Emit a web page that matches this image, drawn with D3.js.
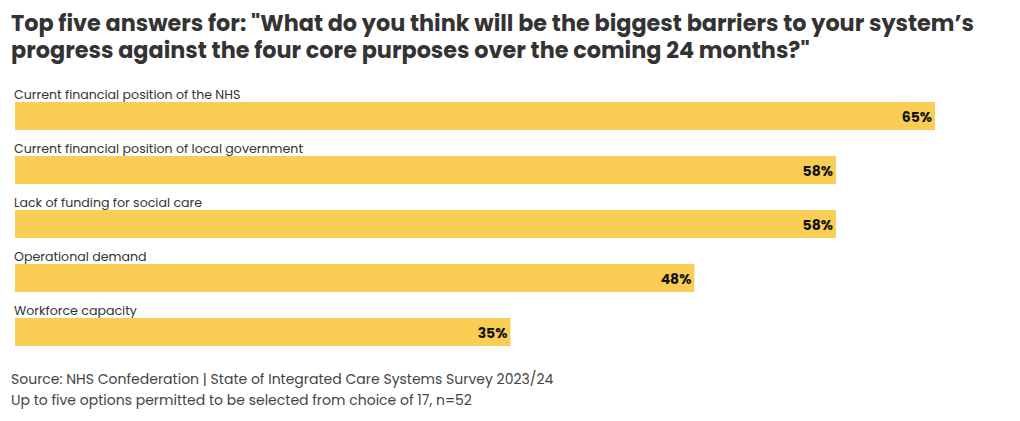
<!DOCTYPE html>
<html><head><meta charset="utf-8">
<script src="https://cdn.jsdelivr.net/npm/d3@7"></script>
<style>body{margin:0;background:#fff;} svg{display:block;}</style>
</head><body>
<script>
const categories = ["Current financial position of the NHS","Current financial position of local government","Lack of funding for social care","Operational demand","Workforce capacity"];
const values = [65, 58, 58, 48, 35];
const titleLines = ["Top five answers for: \"What do you think will be the biggest barriers to your system’s","progress against the four core purposes over the coming 24 months?\""];
const footerLines = ["Source: NHS Confederation | State of Integrated Care Systems Survey 2023/24","Up to five options permitted to be selected from choice of 17, n=52"];

const W = 1020, H = 421;
const font = "Poppins, 'Open Sans', Lato, sans-serif";
const svg = d3.select("body").append("svg").attr("width", W).attr("height", H);

const title = svg.append("text")
  .attr("font-family", font).attr("font-weight", 700).attr("font-size", 22.35)
  .attr("fill", "#333");
title.selectAll("tspan").data(titleLines).join("tspan")
  .attr("x", 11).attr("y", (d,i)=>30.5 + i*27).text(d=>d);

const x = d3.scaleLinear().domain([0, 65]).range([15, 935]);
const y = d3.scaleBand().domain(categories).range([84, 354]).paddingInner(0).paddingOuter(0);

const g = svg.append("g");
const rows = g.selectAll("g.row").data(categories).join("g");
rows.append("rect")
  .attr("x", x(0)).attr("y", d=>y(d)+18)
  .attr("width", (d,i)=>x(values[i]) - x(0)).attr("height", 28)
  .attr("fill", "#FACD55");
rows.append("text")
  .attr("x", 14).attr("y", d=>y(d)+14.5)
  .attr("font-family", font).attr("font-size", 12.6).attr("fill", "#333").text(d=>d);
rows.append("text")
  .attr("x", (d,i)=>x(values[i]) - 3).attr("y", d=>y(d)+37.5)
  .attr("text-anchor", "end")
  .attr("font-family", font).attr("font-weight", 700).attr("font-size", 14).attr("fill", "#111")
  .text((d,i)=>values[i] + "%");

const foot = svg.append("text")
  .attr("font-family", font).attr("font-size", 14).attr("fill", "#444");
foot.selectAll("tspan").data(footerLines).join("tspan")
  .attr("x", 11).attr("y", (d,i)=>384 + i*21).text(d=>d);
</script>
</body></html>
